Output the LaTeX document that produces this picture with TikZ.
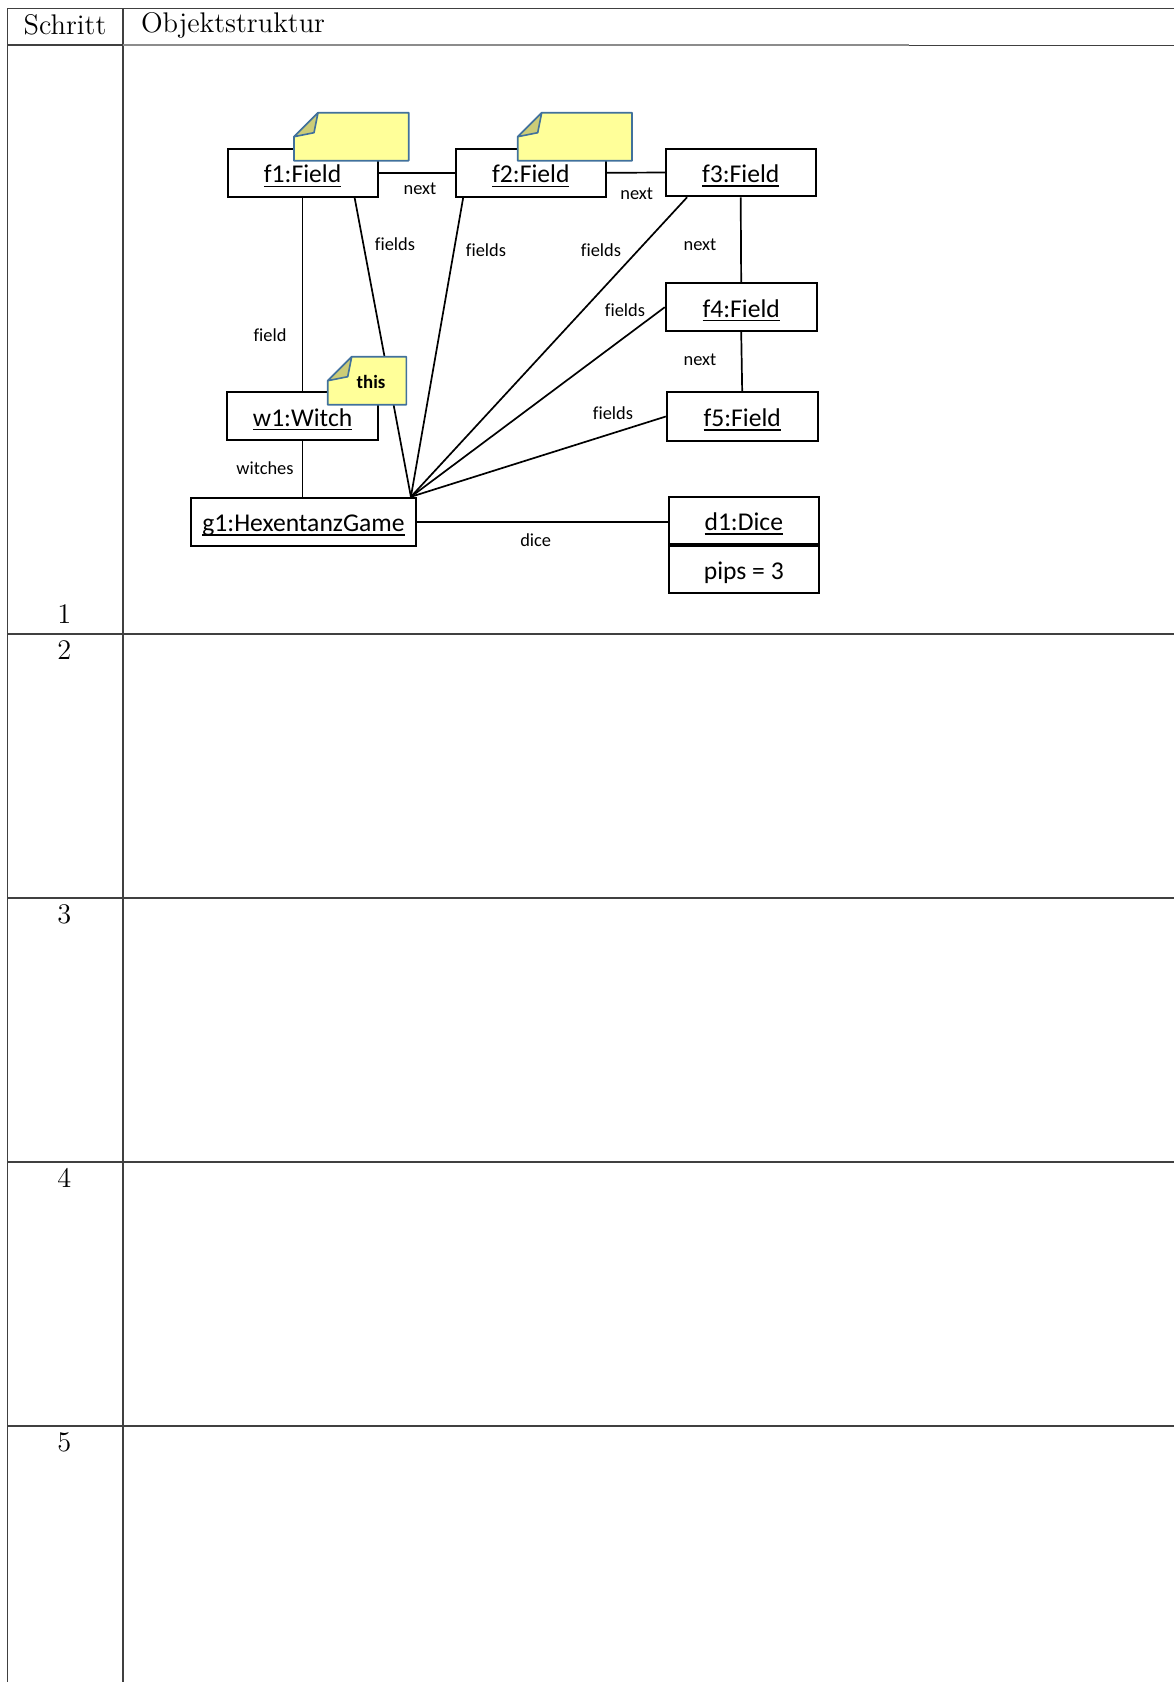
\documentclass[tikz,border=0pt]{standalone}
\usepackage{fontspec}
\newfontfamily\carlito[Ligatures=NoCommon]{Carlito}
\definecolor{notefill}{HTML}{FFFF99}
\definecolor{noteline}{HTML}{41719C}
\definecolor{notefold}{HTML}{CCCC77}
\definecolor{gridline}{gray}{0.25}
% underline that does not change the text box
\newcommand{\objul}[1]{\setbox0\hbox{#1}\rlap{\raisebox{-2pt}[0pt][0pt]{\rule{\wd0}{0.65pt}}}\box0}
% yellow note: left, top, width
\newcommand{\hxnote}[3]{%
  \filldraw[fill=notefill,draw=noteline,line width=0.8pt,line join=round]
    (#1,#2+24) -- (#1+24,#2) -- (#1+#3,#2) -- (#1+#3,#2+48) -- (#1,#2+48) -- cycle;
  \filldraw[fill=notefold,draw=noteline,line width=0.8pt,line join=round]
    (#1,#2+24) -- (#1+24,#2) -- (#1+20,#2+20) -- cycle;}
\begin{document}
\begin{tikzpicture}[x=0.5pt,y=-0.5pt,
  obj/.style={draw,line width=0.9pt,minimum width=75pt,minimum height=23.85pt,inner sep=0pt,
    text height=10pt,text depth=0pt,font=\carlito\fontsize{12.8}{15}\selectfont},
  lbl/.style={font=\carlito\fontsize{9.2}{11}\selectfont,inner sep=0pt},
  link/.style={line width=0.85pt},
  grid/.style={gridline,line width=0.7pt},
  cell/.style={font=\fontsize{14.2}{17}\selectfont,inner sep=0pt}]
\useasboundingbox (0,0) rectangle (1174,1682);
% table
\draw[grid] (1174,8.6) -- (7.5,8.6) -- (7.5,1682);
\draw[grid] (123,8.6) -- (123,1682);
\draw[grid] (7.5,45) -- (123,45);
\draw[gridline!60,line width=0.6pt] (123,45) -- (909,45);
\draw[grid] (909,45.5) -- (1174,45.5);
\foreach \y in {634,898,1162,1426}
  \draw[grid] (7.5,\y) -- (1174,\y);
\node[cell] (hstep) at (65,25) {Schritt};
\node[cell,anchor=west] (hobj) at (140.6,25) {Objektstruktur};
\node[cell] (n1) at (64.4,614) {1};
\node[cell] (n2) at (64.4,650) {2};
\node[cell] (n3) at (64.4,914) {3};
\node[cell] (n4) at (64.4,1178) {4};
\node[cell] (n5) at (64.4,1442) {5};
% objects
\node[obj] (f1) at (302.6,172.8) {\objul{f1:Field}};
\node[obj] (f2) at (530.8,172.8) {\objul{f2:Field}};
\node[obj] (f3) at (740.7,172.5) {\objul{f3:Field}};
\node[obj,minimum width=75.5pt] (f4) at (741.2,307.2) {\objul{f4:Field}};
\node[obj,minimum width=75.5pt,minimum height=24.2pt] (f5) at (742.2,416.5) {\objul{f5:Field}};
\node[obj,minimum width=75.3pt,minimum height=24pt] (w1) at (302.6,416) {\objul{w1:Witch}};
\node[obj,minimum width=112.2pt,minimum height=24pt] (g1) at (303.5,521.7) {\objul{g1:HexentanzGame}};
\node[obj,minimum width=75.2pt,minimum height=23.5pt] (d1) at (743.8,520.5) {\objul{d1:Dice}};
\node[obj,minimum width=75.2pt,minimum height=23.5pt,anchor=north] (d1pips) at (d1.south) {pips = 3};
% links
\draw[link] (f1.east) -- (f2.west);
\draw[link] (f2.east) -- (f3.west);
\draw[link] (f3.south) -- (f4.north);
\draw[link] (f4.south) -- (f5.north);
\draw[link] (f1.south) -- (w1.north);
\draw[link] (w1.south) -- (w1.south |- g1.north);
\draw[link] (g1.east) -- (g1.east -| d1.west);
\coordinate (hub) at ([xshift=-2.85pt]g1.north east);
\draw[link] ([xshift=26pt]f1.south) -- (hub);
\draw[link] ([xshift=4.15pt]f2.south west) -- (hub);
\draw[link] ([xshift=11.15pt]f3.south west) -- (hub);
\draw[link] (f4.west) -- (hub);
\draw[link] (f5.west) -- (hub);
% link labels
\node[lbl] (lnext1) at (420,189) {next};
\node[lbl] (lnext2) at (636.7,194) {next};
\node[lbl] (lnext3) at (700,245) {next};
\node[lbl] (lnext4) at (700,359.3) {next};
\node[lbl] (lfield) at (270,335) {field};
\node[lbl] (lwitches) at (265,468) {witches};
\node[lbl] (ldice) at (535.7,540) {dice};
\node[lbl] (lfields1) at (395,244) {fields};
\node[lbl] (lfields2) at (486,250) {fields};
\node[lbl] (lfields3) at (601,250) {fields};
\node[lbl] (lfields4) at (625,310) {fields};
\node[lbl] (lfields5) at (613,413) {fields};
% notes
\hxnote{294}{112.7}{114.7}
\hxnote{517.7}{112.7}{114.3}
\hxnote{327.7}{356.7}{78.6}
\node[lbl,font=\carlito\bfseries\fontsize{9.4}{11}\selectfont] (lthis) at (371,381.7) {this};
\end{tikzpicture}
\end{document}
